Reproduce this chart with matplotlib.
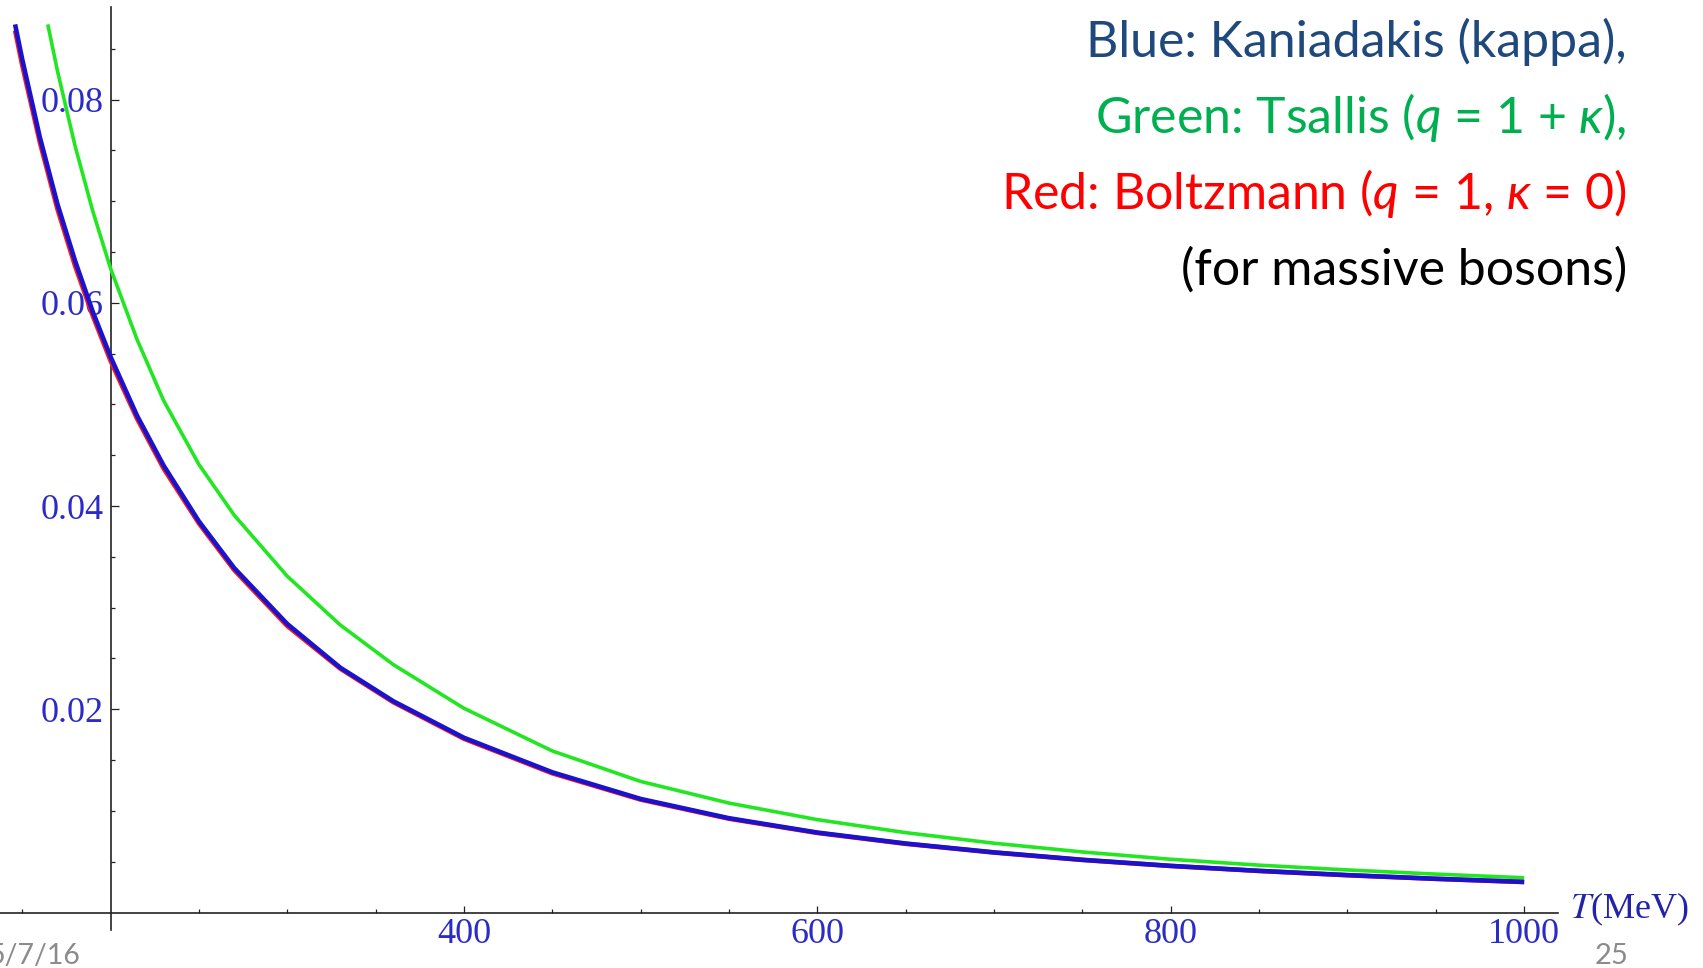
import matplotlib
matplotlib.use("Agg")
import matplotlib.pyplot as plt
from matplotlib.ticker import FixedLocator, NullFormatter

# curves: T in MeV, value on the vertical axis
T_blue = [146, 150, 160, 170, 180, 190, 200, 215, 230, 250, 270, 300, 330, 360, 400,
          450, 500, 550, 600, 650, 700, 750, 800, 850, 900, 950, 1000]
n_blue = [0.0874, 0.0840, 0.0763, 0.0697, 0.0641, 0.0591, 0.0547, 0.0489, 0.0440, 0.0385,
          0.0339, 0.0284, 0.0241, 0.0208, 0.0172, 0.0138, 0.01118, 0.00928, 0.00787, 0.00679,
          0.00592, 0.00519, 0.00459, 0.00410, 0.00368, 0.00332, 0.00301]

T_red = T_blue
n_red = [0.0868, 0.0834, 0.0758, 0.0692, 0.0636, 0.0587, 0.0543, 0.0486, 0.0437, 0.0383,
         0.0337, 0.0282, 0.0240, 0.0207, 0.0171, 0.0137, 0.01111, 0.00923, 0.00783, 0.00676,
         0.00590, 0.00517, 0.00458, 0.00409, 0.00367, 0.00331, 0.00300]

T_green = [164.5, 170, 180, 190, 200, 215, 230, 250, 270, 300, 330, 360, 400, 450, 500,
           550, 600, 650, 700, 750, 800, 850, 900, 950, 1000]
n_green = [0.0874, 0.0828, 0.0754, 0.0690, 0.0634, 0.0564, 0.0504, 0.0441, 0.0391, 0.0331,
           0.0283, 0.0244, 0.0201, 0.0159, 0.0129, 0.01077, 0.00914, 0.00786, 0.00682,
           0.00596, 0.00524, 0.00466, 0.00419, 0.00378, 0.00342]

x_major = [400, 600, 800, 1000]
x_minor = [150, 250, 300, 350, 450, 500, 550, 650, 700, 750, 850, 900, 950]
y_major = [0.02, 0.04, 0.06, 0.08]
y_minor = [0.005, 0.01, 0.015, 0.025, 0.03, 0.035, 0.045, 0.05, 0.055, 0.065, 0.07, 0.075, 0.085]
y_labels = ["0.02", "0.04", "0.06", "0.08"]
x_labels = ["400", "600", "800", "1000"]

legend_lines = ["Blue: Kaniadakis (kappa),",
                "Green: Tsallis ($q$ = 1 + $\\kappa$),",
                "Red: Boltzmann ($q$ = 1, $\\kappa$ = 0)",
                "(for massive bosons)"]
legend_colors = ["#1f497d", "#00b050", "#ff0000", "#000000"]

plt.rcParams["font.family"] = ["Liberation Serif", "DejaVu Serif"]
plt.rcParams["mathtext.fontset"] = "custom"
plt.rcParams["mathtext.rm"] = "Lato"
plt.rcParams["mathtext.it"] = "Lato:italic"
plt.rcParams["mathtext.fallback"] = "stixsans"

W, H = 1703, 968
fig = plt.figure(figsize=(W / 100, H / 100), dpi=100)
ax = fig.add_axes([0, 0, 1, 1])
ax.set_xlim(137.46, 1101.2)
ax.set_ylim(-0.00546, 0.0898)

ax.plot(T_green, n_green, color="#22e622", lw=2.6, solid_capstyle="butt", zorder=3)
ax.plot(T_red, n_red, color="#ff1a1a", lw=3.3, solid_capstyle="butt", zorder=4)
ax.plot(T_blue, n_blue, color="#1a12cc", lw=3.3, solid_capstyle="butt", zorder=5)

for s in ["top", "right"]:
    ax.spines[s].set_visible(False)
ax.spines["left"].set_position(("data", 200))
ax.spines["bottom"].set_position(("data", 0))
ax.spines["left"].set_bounds(-0.0017, 0.0891)
ax.spines["bottom"].set_bounds(137.46, 1019.2)
for s in ["left", "bottom"]:
    ax.spines[s].set_linewidth(1.2)
    ax.spines[s].set_color("#222222")

ax.xaxis.set_major_locator(FixedLocator(x_major))
ax.xaxis.set_minor_locator(FixedLocator(x_minor))
ax.yaxis.set_major_locator(FixedLocator(y_major))
ax.yaxis.set_minor_locator(FixedLocator(y_minor))
ax.set_xticklabels(x_labels)
ax.set_yticklabels(y_labels)
ax.xaxis.set_minor_formatter(NullFormatter())
ax.yaxis.set_minor_formatter(NullFormatter())

ax.tick_params(which="major", direction="in", length=5.4, width=0.9, color="#222222",
               labelsize=26, labelcolor="#2b2bc6")
ax.tick_params(which="minor", direction="in", length=3.0, width=0.9, color="#222222")
ax.tick_params(axis="x", which="major", pad=4)
ax.tick_params(axis="y", which="major", pad=5)

ax.text(1026, 0.0003, "$T$(MeV)", math_fontfamily="stix", fontsize=26,
        color="#2323a8", ha="left", va="center")

baselines = [57, 133, 209, 285]
for s, c, b in zip(legend_lines, legend_colors, baselines):
    fig.text(1627 / W, 1 - b / H, s, ha="right", va="baseline", fontsize=36,
             color=c, family="Lato")

# slide footer: the date is partly cut off at the left edge in the original
fig.text(80 / W, 4 / H, "5/7/16", ha="right", va="baseline", fontsize=20.5,
         color="#8b8b8b", family="Lato")
fig.text(1629 / W, 4 / H, "25", ha="right", va="baseline", fontsize=21,
         color="#8b8b8b", family="Lato")

fig.savefig("out.png", dpi=100)
